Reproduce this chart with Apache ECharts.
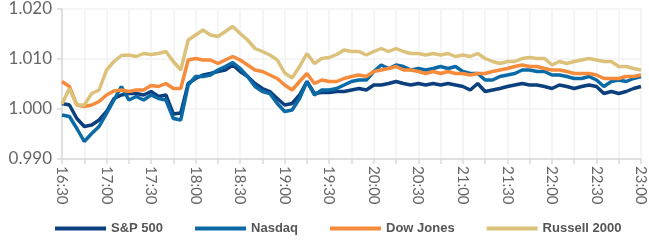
<!DOCTYPE html>
<html>
<head>
<meta charset="utf-8">
<script src="https://cdn.jsdelivr.net/npm/echarts@6/dist/echarts.min.js"></script>
<style>
  html, body { margin: 0; padding: 0; background: #fff; }
  #main { width: 649px; height: 246px; }
</style>
</head>
<body>
<div id="main"></div>
<script>
// 5-minute steps from 16:30 to 23:00
var startTime = '16:30';
var stepMin = 5;
var tickLabels = ['16:30', '17:00', '17:30', '18:00', '18:30', '19:00', '19:30', '20:00',
    '20:30', '21:00', '21:30', '22:00', '22:30', '23:00'];
var seriesNames = ['S&P 500', 'Nasdaq', 'Dow Jones', 'Russell 2000'];
var seriesColors = ['#0b3f7e', '#0a6aa6', '#f68b3c', '#dcc17b'];

var sp500 = [1.0011, 1.0008, 0.9981, 0.9965, 0.9968, 0.9978, 0.9995, 1.0021, 1.0028, 1.0031, 1.0031, 1.0028, 1.0035,
    1.0025, 1.0028, 0.9990, 0.9992, 1.0051, 1.0061, 1.0068, 1.0071, 1.0075, 1.0078, 1.0088, 1.0075,
    1.0065, 1.0051, 1.0041, 1.0035, 1.0021, 1.0008, 1.0011, 1.0028, 1.0055, 1.0031, 1.0033, 1.0033, 1.0035,
    1.0035, 1.0038, 1.0041, 1.0038, 1.0048, 1.0048, 1.0051, 1.0055, 1.0051, 1.0048, 1.0051, 1.0048, 1.0051, 1.0048,
    1.0051, 1.0048, 1.0045, 1.0038, 1.0051, 1.0035, 1.0038, 1.0041, 1.0045, 1.0048, 1.0051, 1.0048,
    1.0048, 1.0045, 1.0041, 1.0048, 1.0045, 1.0041, 1.0045, 1.0048, 1.0045, 1.0031, 1.0035, 1.0031, 1.0035, 1.0041, 1.0045];

var nasdaq = [0.9988, 0.9985, 0.9961, 0.9935, 0.9951, 0.9965, 0.9991, 1.0018, 1.0045, 1.0018, 1.0025, 1.0018, 1.0028,
    1.0021, 1.0018, 0.9981, 0.9978, 1.0048, 1.0065, 1.0065, 1.0068, 1.0078, 1.0085, 1.0093, 1.0081,
    1.0065, 1.0045, 1.0035, 1.0031, 1.0011, 0.9995, 0.9998, 1.0021, 1.0055, 1.0028, 1.0038, 1.0038, 1.0041,
    1.0048, 1.0055, 1.0058, 1.0058, 1.0075, 1.0088, 1.0081, 1.0088, 1.0085, 1.0078, 1.0081, 1.0078, 1.0081, 1.0085,
    1.0081, 1.0085, 1.0075, 1.0071, 1.0071, 1.0058, 1.0058, 1.0065, 1.0068, 1.0071, 1.0078, 1.0078,
    1.0075, 1.0075, 1.0068, 1.0068, 1.0065, 1.0061, 1.0061, 1.0065, 1.0058, 1.0045, 1.0055, 1.0058, 1.0055, 1.0061, 1.0065];

var dowJones = [1.0055, 1.0045, 1.0008, 1.0005, 1.0008, 1.0015, 1.0028, 1.0036, 1.0038, 1.0035, 1.0038, 1.0038, 1.0047,
    1.0045, 1.0051, 1.0041, 1.0041, 1.0098, 1.0101, 1.0098, 1.0098, 1.0091, 1.0098, 1.0105, 1.0098,
    1.0088, 1.0078, 1.0075, 1.0068, 1.0061, 1.0048, 1.0038, 1.0055, 1.0071, 1.0051, 1.0058, 1.0055, 1.0055,
    1.0061, 1.0065, 1.0068, 1.0065, 1.0075, 1.0078, 1.0081, 1.0085, 1.0078, 1.0078, 1.0075, 1.0071, 1.0075, 1.0071,
    1.0075, 1.0071, 1.0071, 1.0068, 1.0071, 1.0071, 1.0075, 1.0078, 1.0081, 1.0085, 1.0088, 1.0085,
    1.0085, 1.0081, 1.0078, 1.0078, 1.0075, 1.0071, 1.0071, 1.0071, 1.0068, 1.0061, 1.0061, 1.0061, 1.0065, 1.0065, 1.0068];

var russell = [1.0010, 1.0041, 1.0008, 1.0008, 1.0031, 1.0038, 1.0078, 1.0095, 1.0107, 1.0108, 1.0105, 1.0111, 1.0109,
    1.0111, 1.0115, 1.0095, 1.0078, 1.0138, 1.0148, 1.0158, 1.0148, 1.0145, 1.0155, 1.0165, 1.0151,
    1.0138, 1.0121, 1.0115, 1.0108, 1.0098, 1.0072, 1.0062, 1.0085, 1.0111, 1.0091, 1.0101, 1.0103, 1.0109,
    1.0118, 1.0115, 1.0115, 1.0108, 1.0115, 1.0121, 1.0115, 1.0121, 1.0115, 1.0111, 1.0111, 1.0108, 1.0111, 1.0108,
    1.0111, 1.0105, 1.0108, 1.0105, 1.0111, 1.0101, 1.0095, 1.0091, 1.0095, 1.0095, 1.0101, 1.0103,
    1.0101, 1.0101, 1.0088, 1.0095, 1.0091, 1.0095, 1.0098, 1.0101, 1.0098, 1.0095, 1.0095, 1.0085, 1.0085, 1.0081, 1.0078];

function toPairs(values) {
    return values.map(function (v, i) { return [i * stepMin, v]; });
}

var myChart = echarts.init(document.getElementById('main'));
var allValues = [sp500, nasdaq, dowJones, russell];

var option = {
    animation: false,
    color: seriesColors,
    grid: { left: 62, right: 8, top: 9, bottom: 87 },
    legend: {
        bottom: 6,
        left: 50,
        icon: 'rect',
        itemWidth: 51,
        itemHeight: 4,
        itemGap: 32,
        textStyle: { color: '#555', fontSize: 13, fontWeight: 'bold', fontFamily: 'Liberation Sans' },
        data: seriesNames
    },
    xAxis: {
        type: 'value',
        min: 0,
        max: 390,
        interval: 15,
        axisLine: { lineStyle: { color: '#d9d9d9', width: 1.5 } },
        axisTick: { show: true, length: 5, lineStyle: { color: '#d9d9d9', width: 1.5 } },
        splitLine: { show: true, lineStyle: { color: '#f2f2f2', width: 1.5 } },
        axisLabel: {
            rotate: -90,
            margin: 7,
            color: '#666',
            fontSize: 15,
            fontFamily: 'Lato',
            formatter: function (v) {
                return v % 30 === 0 ? tickLabels[v / 30] : '';
            }
        }
    },
    yAxis: {
        type: 'value',
        min: 0.99,
        max: 1.02,
        interval: 0.01,
        axisLine: { show: true, lineStyle: { color: '#d9d9d9', width: 1.5 } },
        axisTick: { show: true, length: 5, lineStyle: { color: '#d9d9d9', width: 1.5 } },
        splitLine: { lineStyle: { color: '#f2f2f2', width: 1.5 } },
        axisLabel: {
            margin: 10,
            color: '#666',
            fontSize: 17,
            fontFamily: 'Lato',
            formatter: function (v) { return v.toFixed(3); }
        }
    },
    series: seriesNames.map(function (name, i) {
        return {
            name: name,
            type: 'line',
            showSymbol: false,
            data: toPairs(allValues[i]),
            lineStyle: { width: 3.5 }
        };
    })
};
myChart.setOption(option);
</script>
</body>
</html>
